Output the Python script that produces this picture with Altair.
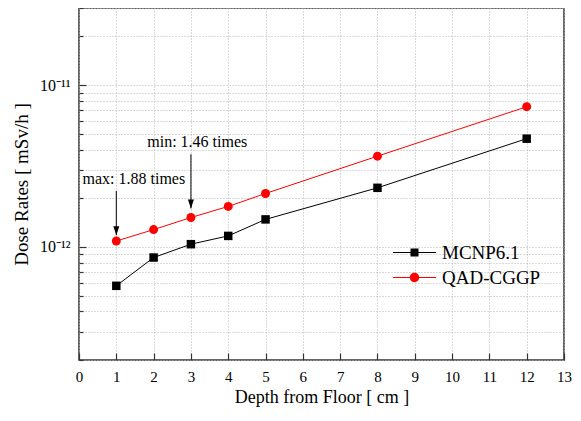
import altair as alt
import pandas as pd

# ---- data ----
depth = [1, 2, 3, 4, 5, 8, 12]
mcnp = [5.75e-13, 8.6e-13, 1.04e-12, 1.17e-12, 1.48e-12, 2.32e-12, 4.67e-12]
qad = [1.088e-12, 1.28e-12, 1.52e-12, 1.78e-12, 2.14e-12, 3.64e-12, 7.36e-12]
series_names = ["MCNP6.1", "QAD-CGGP"]
series_colors = ["#000000", "#ff0000"]

x_ticks = list(range(0, 14))
y_major = [1e-12, 1e-11]
y_major_labels = ["10⁻¹²", "10⁻¹¹"]
y_minor = [2e-13, 3e-13, 4e-13, 5e-13, 6e-13, 7e-13, 8e-13, 9e-13,
           1e-12, 2e-12, 3e-12, 4e-12, 5e-12, 6e-12, 7e-12, 8e-12, 9e-12,
           1e-11, 2e-11, 3e-11]

ann_x_arrow = [1, 3]
ann_x_text = [1.47, 3.17]
ann_text = ["max: 1.88 times", "min: 1.46 times"]
ann_text_y = [2.44e-12, 4.15e-12]
arrow_top = [2.22e-12, 3.74e-12]
arrow_tip = [1.18e-12, 1.73e-12]

SERIF = "Liberation Serif"

df = pd.DataFrame({
    "depth": depth + depth,
    "dose": mcnp + qad,
    "series": [series_names[0]] * len(depth) + [series_names[1]] * len(depth),
})
ann_df = pd.DataFrame({
    "ax": ann_x_arrow, "tx": ann_x_text, "label": ann_text,
    "ty": ann_text_y, "top": arrow_top, "tip": arrow_tip,
})

major_test = " || ".join(f"abs(datum.value/{v} - 1) < 0.001" for v in y_major)
label_expr = "".join(
    f"abs(datum.value/{v} - 1) < 0.001 ? '{lab}' : " for v, lab in zip(y_major, y_major_labels)
) + "''"

x_scale = alt.Scale(domain=[0, 13], nice=False, zero=False)
y_scale = alt.Scale(type="log", domain=[2e-13, 3e-11], nice=False)
color_scale = alt.Scale(domain=series_names, range=series_colors)

axis_x = alt.Axis(
    values=x_ticks, title="Depth from Floor [ cm ]", grid=True,
    gridColor="#b4b4b4", gridDash=[1, 2], gridWidth=1,
    domain=False, tickSize={"expr": "-7"}, tickColor="#333333", tickWidth=1.2,
    labelPadding=16, labelFont=SERIF, labelFontSize=15, labelColor="black",
    labelFlush=False, labelOverlap=False,
    titleFont=SERIF, titleFontSize=18, titleFontWeight="normal", titleColor="black",
    titlePadding=4,
)
axis_y = alt.Axis(
    values=y_minor, labelExpr=label_expr, title="Dose Rates [ mSv/h ]", grid=True,
    gridColor="#b4b4b4", gridDash=[1, 2], gridWidth=1,
    domain=False,
    tickSize={"condition": {"test": major_test, "value": -7}, "value": -4},
    tickColor="#333333", tickWidth=1.2,
    labelPadding=16, labelFont=SERIF, labelFontSize=16, labelColor="black",
    labelFlush=False, labelOverlap=False,
    titleFont=SERIF, titleFontSize=19, titleFontWeight="normal", titleColor="black",
    titlePadding=8,
)

X = alt.X("depth:Q", scale=x_scale, axis=axis_x)
Y = alt.Y("dose:Q", scale=y_scale, axis=axis_y)

# legend glyphs (line + marker) drawn as filled shapes, so the colour
# scale's fill paints each entry in its own colour
U = 9.0  # pixels per path unit for symbolSize 324
SEG = "M-2.4,-0.056H2.4V0.056H-2.4Z"
h = 4.0 / U
r = 4.7 / U
path_sq = SEG + f"M{-h:.3f},{-h:.3f}H{h:.3f}V{h:.3f}H{-h:.3f}Z"
path_ci = SEG + f"M{r:.3f},0A{r:.3f},{r:.3f},0,1,1,{-r:.3f},0A{r:.3f},{r:.3f},0,1,1,{r:.3f},0Z"

leg = alt.Legend(
    title=None, orient="none", legendX=326, legendY=235, padding=0,
    labelFont=SERIF, labelFontSize=19, labelColor="black",
    symbolSize=324, symbolStrokeWidth=0, symbolStrokeColor="transparent",
    labelOffset=18, rowPadding=5,
)
C = alt.Color("series:N", scale=color_scale, legend=leg)

base = alt.Chart(df)
legend_layer = base.transform_filter("false").mark_point(
    filled=True, opacity=1, size=324).encode(
    x=X, y=Y,
    color=C,
    shape=alt.Shape("series:N", scale=alt.Scale(domain=series_names, range=[path_sq, path_ci]), legend=leg),
)
lines = base.mark_line(strokeWidth=1).encode(x=X, y=Y, color=C)
squares = base.transform_filter(f"datum.series == '{series_names[0]}'").mark_square(
    size=72, opacity=1, color=series_colors[0]).encode(x=X, y=Y)
circles = base.transform_filter(f"datum.series == '{series_names[1]}'").mark_circle(
    size=80, opacity=1, color=series_colors[1]).encode(x=X, y=Y)

ann = alt.Chart(ann_df)
AX = alt.X("ax:Q", scale=x_scale, axis=axis_x)
arrow_rule = ann.mark_rule(color="black", strokeWidth=1).encode(
    x=AX, y=alt.Y("top:Q", scale=y_scale, axis=axis_y), y2="tip:Q")
arrow_head = ann.mark_point(shape="M0,0L-1,-3L1,-3Z", filled=True, size=36,
                            color="black", opacity=1).encode(
    x=AX, y=alt.Y("tip:Q", scale=y_scale, axis=axis_y))
ann_label = ann.mark_text(font=SERIF, fontSize=16, baseline="alphabetic",
                          align="center", color="black").encode(
    x=alt.X("tx:Q", scale=x_scale, axis=axis_x),
    y=alt.Y("ty:Q", scale=y_scale, axis=axis_y),
    text="label:N")

chart = alt.layer(legend_layer, lines, squares, circles, arrow_rule, arrow_head, ann_label).properties(
    width=485, height=352,
    autosize=alt.AutoSizeParams(type="none"),
    padding={"left": 71, "top": 0, "right": 9, "bottom": 53},
    background="white",
).configure_view(stroke="#333333", strokeWidth=1.5)

chart.save("out.html", embed_options={"renderer": "svg", "actions": False})
